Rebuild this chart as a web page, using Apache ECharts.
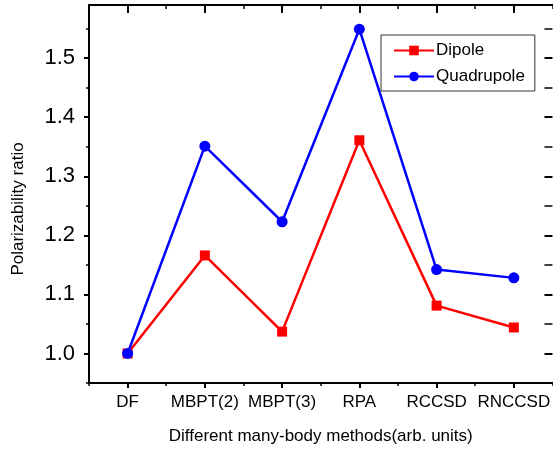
<!DOCTYPE html>
<html>
<head>
<meta charset="utf-8">
<script src="https://cdn.jsdelivr.net/npm/echarts@6/dist/echarts.min.js"></script>
<style>html,body{margin:0;padding:0;background:#fff}#c{width:553px;height:450px}</style>
</head>
<body>
<div id="c"></div>
<script>
var categories = ['DF', 'MBPT(2)', 'MBPT(3)', 'RPA', 'RCCSD', 'RNCCSD'];
var dipole = [1.000, 1.166, 1.037, 1.361, 1.081, 1.044];
var quadrupole = [1.000, 1.351, 1.223, 1.549, 1.142, 1.128];
var yMajorTicks = [1.0, 1.1, 1.2, 1.3, 1.4, 1.5];
var yMinorTicks = [0.95, 1.05, 1.15, 1.25, 1.35, 1.45, 1.55];

var FONT = 'Liberation Sans, Arial, sans-serif';
var chart = echarts.init(document.getElementById('c'), null, {renderer: 'canvas'});
var yMin = 0.95, yMax = 1.59;
var lineStyleAxis = {color: '#000', width: 2};

function catAxis(pos, opts) {
  return Object.assign({
    type: 'category', data: categories, position: pos, offset: 0,
    boundaryGap: true,
    axisLine: {show: false},
    axisLabel: {show: false},
    axisTick: {show: false},
    splitLine: {show: false}
  }, opts);
}
function valAxis(pos, opts) {
  return Object.assign({
    type: 'value', position: pos, offset: 0, min: yMin, max: yMax,
    axisLine: {show: false},
    axisLabel: {show: false},
    axisTick: {show: false},
    splitLine: {show: false}
  }, opts);
}

chart.setOption({
  animation: false,
  backgroundColor: '#fff',
  grid: {left: 89, top: 5, width: 466, height: 379, containLabel: false},
  legend: {
    orient: 'vertical', left: 381, top: 35,
    data: ['Dipole', 'Quadrupole'],
    itemWidth: 40, itemHeight: 12, itemGap: 9,
    padding: [7, 10, 6, 12],
    borderColor: '#333', borderWidth: 1,
    backgroundColor: '#fff',
    textStyle: {fontFamily: FONT, fontSize: 17, color: '#000', padding: [0, 0, 0, -3]}
  },
  xAxis: [
    catAxis('bottom', {
      axisLine: {show: true, onZero: false, lineStyle: lineStyleAxis},
      axisTick: {show: true, alignWithLabel: true, length: 5, lineStyle: {color: '#000', width: 2}},
      axisLabel: {show: true, margin: 11, fontFamily: FONT, fontSize: 17, color: '#000', interval: 0},
      name: 'Different many-body methods(arb. units)',
      nameLocation: 'middle', nameGap: 45,
      nameTextStyle: {fontFamily: FONT, fontSize: 17, color: '#000'}
    }),
    catAxis('bottom', {
      axisTick: {show: true, alignWithLabel: false, length: 3, lineStyle: {color: '#000', width: 1.5}}
    }),
    catAxis('top', {
      axisLine: {show: true, onZero: false, lineStyle: lineStyleAxis},
      axisTick: {show: true, inside: true, alignWithLabel: true, length: 8, lineStyle: {color: '#000', width: 2}}
    }),
    catAxis('top', {
      axisTick: {show: true, inside: true, alignWithLabel: false, length: 4, lineStyle: {color: '#000', width: 1.5}}
    })
  ],
  yAxis: [
    valAxis('left', {
      axisLine: {show: true, onZero: false, lineStyle: lineStyleAxis},
      axisTick: {show: true, length: 5, customValues: yMajorTicks, lineStyle: {color: '#000', width: 2}},
      axisLabel: {show: true, margin: 14, customValues: yMajorTicks, fontFamily: FONT, fontSize: 22, color: '#000',
        formatter: function (v) { return v.toFixed(1); }},
      name: 'Polarizability ratio', nameLocation: 'middle', nameGap: 62, nameRotate: 90,
      nameTextStyle: {fontFamily: FONT, fontSize: 17, color: '#000', padding: [0, 30, 0, 0]}
    }),
    valAxis('left', {
      axisTick: {show: true, length: 3, customValues: yMinorTicks, lineStyle: {color: '#000', width: 1.5}}
    }),
    valAxis('right', {
      axisTick: {show: true, inside: true, length: 8, customValues: yMajorTicks, lineStyle: {color: '#000', width: 2}}
    }),
    valAxis('right', {
      axisTick: {show: true, inside: true, length: 8, customValues: yMinorTicks, lineStyle: {color: '#000', width: 1.5}}
    })
  ],
  series: [
    {
      name: 'Dipole', type: 'line', data: dipole, xAxisIndex: 0, yAxisIndex: 0,
      symbol: 'rect', symbolSize: 10, showAllSymbol: true,
      itemStyle: {color: '#ff0000'}, lineStyle: {color: '#ff0000', width: 2.5}, z: 3
    },
    {
      name: 'Quadrupole', type: 'line', data: quadrupole, xAxisIndex: 0, yAxisIndex: 0,
      symbol: 'circle', symbolSize: 11, showAllSymbol: true,
      itemStyle: {color: '#0000ff'}, lineStyle: {color: '#0000ff', width: 2.5}, z: 4
    }
  ]
});
</script>
</body>
</html>
